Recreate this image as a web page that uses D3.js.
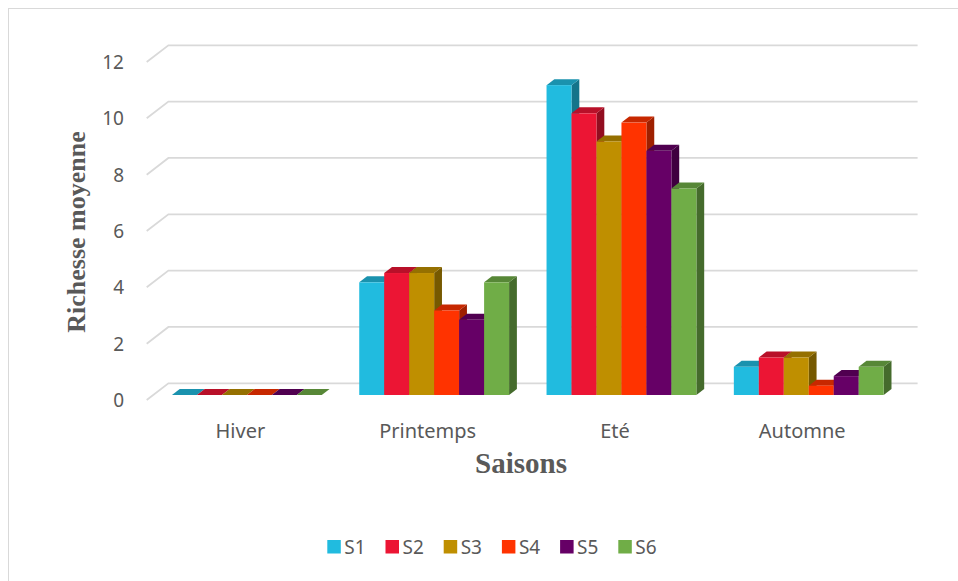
<!DOCTYPE html>
<html>
<head>
<meta charset="utf-8">
<script src="https://cdn.jsdelivr.net/npm/d3@7"></script>
<style>
  html, body { margin: 0; padding: 0; background: #fff; }
  svg { display: block; }
</style>
</head>
<body>
<svg id="chart" width="958" height="581"></svg>
<script>
// Seasonal mean richness per station
const seasons = ["Hiver", "Printemps", "Eté", "Automne"];
const stations = ["S1", "S2", "S3", "S4", "S5", "S6"];
const colors = ["#21BBDF", "#EC1534", "#BF8F00", "#FF3300", "#660066", "#70AD47"];
const valuesS1 = [0, 4, 11, 1];
const valuesS2 = [0, 4.33, 10, 1.33];
const valuesS3 = [0, 4.33, 9, 1.33];
const valuesS4 = [0, 3, 9.67, 0.33];
const valuesS5 = [0, 2.67, 8.67, 0.67];
const valuesS6 = [0, 4, 7.33, 1];
const yTicks = [0, 2, 4, 6, 8, 10, 12];

const series = [valuesS1, valuesS2, valuesS3, valuesS4, valuesS5, valuesS6];

const svg = d3.select("#chart");

// chart frame
svg.append("rect")
  .attr("x", 8.5).attr("y", 8.5)
  .attr("width", 1000).attr("height", 1000)
  .attr("fill", "none").attr("stroke", "#d9d9d9").attr("stroke-width", 1);

// floor front edge and depth of the 3D box
const floorLeft = 146.7, floorRight = 895.9;
const depthX = 21.7, depthY = -16.7;

const x = d3.scaleBand().domain(seasons).range([floorLeft, floorRight])
  .paddingInner(0.2).paddingOuter(0.1);
const xLabel = d3.scaleBand().domain(seasons).range([floorLeft, floorRight]);
const xInner = d3.scaleBand().domain(stations).range([0, x.bandwidth()]);
const y = d3.scaleLinear().domain([0, 12]).range([400, 62]);

// gridlines: short diagonal on the side wall, then along the back wall
const grid = svg.append("g").attr("fill", "none").attr("stroke", "#d9d9d9").attr("stroke-width", 1.8);
yTicks.forEach(t => {
  const y0 = y(t);
  grid.append("path")
    .attr("d", `M${floorLeft},${y0} L${floorLeft + depthX},${y0 + depthY} L${floorRight + depthX},${y0 + depthY}`);
});

// y tick labels
svg.append("g")
  .selectAll("text").data(yTicks).join("text")
  .attr("x", 124).attr("y", d => y(d)).attr("dy", "0.36em")
  .attr("text-anchor", "end")
  .attr("font-family", "'Noto Sans', sans-serif").attr("font-size", 19)
  .attr("fill", "#595959")
  .text(d => d);

// 3D bars: front, top and side faces
const fStart = 0.3, fDepth = 0.36;
const offX = depthX * fStart, offY = depthY * fStart;
const bDX = depthX * fDepth, bDY = depthY * fDepth;
const bars = svg.append("g");
series.forEach((vals, si) => {
  const base = d3.color(colors[si]);
  const topC = d3.rgb(base.r * 0.78, base.g * 0.78, base.b * 0.78);
  const sideC = d3.rgb(base.r * 0.62, base.g * 0.62, base.b * 0.62);
  vals.forEach((v, ci) => {
    const x0 = x(seasons[ci]) + xInner(stations[si]) + offX;
    const w = xInner.bandwidth();
    const yb = y(0) + offY;
    const yt = y(v) + offY;
    const g = bars.append("g");
    g.append("path")
      .attr("d", `M${x0 + w},${yt} L${x0 + w + bDX},${yt + bDY} L${x0 + w + bDX},${yb + bDY} L${x0 + w},${yb} Z`)
      .attr("fill", sideC.formatHex());
    g.append("path")
      .attr("d", `M${x0},${yt} L${x0 + bDX},${yt + bDY} L${x0 + w + bDX},${yt + bDY} L${x0 + w},${yt} Z`)
      .attr("fill", topC.formatHex());
    g.append("rect")
      .attr("x", x0).attr("y", yt).attr("width", w).attr("height", yb - yt)
      .attr("fill", colors[si]);
  });
});

// category labels
svg.append("g")
  .selectAll("text").data(seasons).join("text")
  .attr("x", d => xLabel(d) + xLabel.bandwidth() / 2).attr("y", 438)
  .attr("text-anchor", "middle")
  .attr("font-family", "'Noto Sans', sans-serif").attr("font-size", 20)
  .attr("fill", "#595959")
  .text(d => d);

// axis titles
svg.append("text")
  .attr("x", 521).attr("y", 473)
  .attr("text-anchor", "middle")
  .attr("font-family", "'Liberation Serif', 'Times New Roman', serif")
  .attr("font-weight", "bold").attr("font-size", 29)
  .attr("fill", "#595959")
  .text("Saisons");

svg.append("text")
  .attr("transform", "translate(85,232) rotate(-90)")
  .attr("text-anchor", "middle")
  .attr("font-family", "'Liberation Serif', 'Times New Roman', serif")
  .attr("font-weight", "bold").attr("font-size", 26)
  .attr("fill", "#595959")
  .text("Richesse moyenne");

// legend
const legend = svg.append("g");
stations.forEach((s, i) => {
  const lx = 327.3 + i * 58.2;
  legend.append("rect")
    .attr("x", lx).attr("y", 540).attr("width", 13.5).attr("height", 13.5)
    .attr("fill", colors[i]);
  legend.append("text")
    .attr("x", lx + 17).attr("y", 554)
    .attr("font-family", "'Noto Sans', sans-serif").attr("font-size", 19)
    .attr("fill", "#595959")
    .text(s);
});
</script>
</body>
</html>
